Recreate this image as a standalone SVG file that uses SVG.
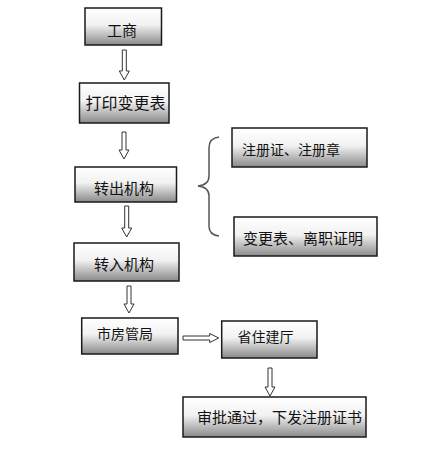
<svg xmlns="http://www.w3.org/2000/svg" width="433" height="456" viewBox="0 0 433 456">
<defs>
<linearGradient id="g" x1="0" y1="0" x2="0" y2="1">
<stop offset="0" stop-color="#ffffff"/>
<stop offset="0.45" stop-color="#f2f2f2"/>
<stop offset="1" stop-color="#8a8a8a"/>
</linearGradient>
</defs>
<style>
.box{fill:url(#g);stroke:#1a1a1a;stroke-width:1.5}
.t{font-family:"Noto Sans CJK SC","Noto Sans CJK JP",sans-serif;font-size:15px;fill:#111}
.m{text-anchor:middle}
.arr{fill:#fff;stroke:#333;stroke-width:1}
.brace{fill:none;stroke:#555;stroke-width:1.5}
</style>
<rect width="433" height="456" fill="#fff"/>
<g id="connectors">
<polygon class="arr" points="122.3,50 126.3,50 126.3,71 129.3,71 124.3,80 119.3,71 122.3,71"/>
<polygon class="arr" points="122,132 126,132 126,150 129,150 124,159 119,150 122,150"/>
<polygon class="arr" points="124.7,206 128.7,206 128.7,228 131.7,228 126.7,237 121.7,228 124.7,228"/>
<polygon class="arr" points="127,286 131,286 131,304 134,304 129,313 124,304 127,304"/>
<polygon class="arr" points="268,368 272,368 272,387 275,387 270,396 265,387 268,387"/>
<polygon class="arr" points="183,336 209.7,336 209.7,333.5 218.7,338 209.7,342.5 209.7,340 183,340"/>
<path class="brace" d="M219,137 Q209,138 209,148 L209,176 Q209,185 198,186 Q209,187 209,196 L209,226 Q209,235 219,236"/>
</g>
<g id="n1"><rect class="box" x="85" y="8" width="76.5" height="37"/><text class="t m" x="122" y="35.5">工商</text></g>
<g id="n2"><rect class="box" x="79.5" y="83" width="89.5" height="40"/><text class="t m" x="125.5" y="109" style="font-size:16px">打印变更表</text></g>
<g id="n3"><rect class="box" x="75" y="167" width="101.5" height="35"/><text class="t m" x="124" y="193.5">转出机构</text></g>
<g id="n4"><rect class="box" x="74" y="243" width="105" height="38"/><text class="t m" x="124" y="269.5">转入机构</text></g>
<g id="n5"><rect class="box" x="232" y="128" width="135" height="39"/><text class="t" x="242" y="154.5" style="font-size:14px">注册证、注册章</text></g>
<g id="n6"><rect class="box" x="234" y="217" width="143" height="39"/><text class="t" x="243" y="243.5">变更表、离职证明</text></g>
<g id="n7"><rect class="box" x="81.7" y="318" width="96.3" height="36"/><text class="t m" x="125" y="338.5" style="font-size:14px">市房管局</text></g>
<g id="n8"><rect class="box" x="221.7" y="321" width="95.3" height="37"/><text class="t m" x="265.5" y="341.5" style="font-size:14px">省住建厅</text></g>
<g id="n9"><rect class="box" x="183" y="397" width="183" height="40"/><text class="t" x="197" y="422.5">审批通过，下发注册证书</text></g>
</svg>
